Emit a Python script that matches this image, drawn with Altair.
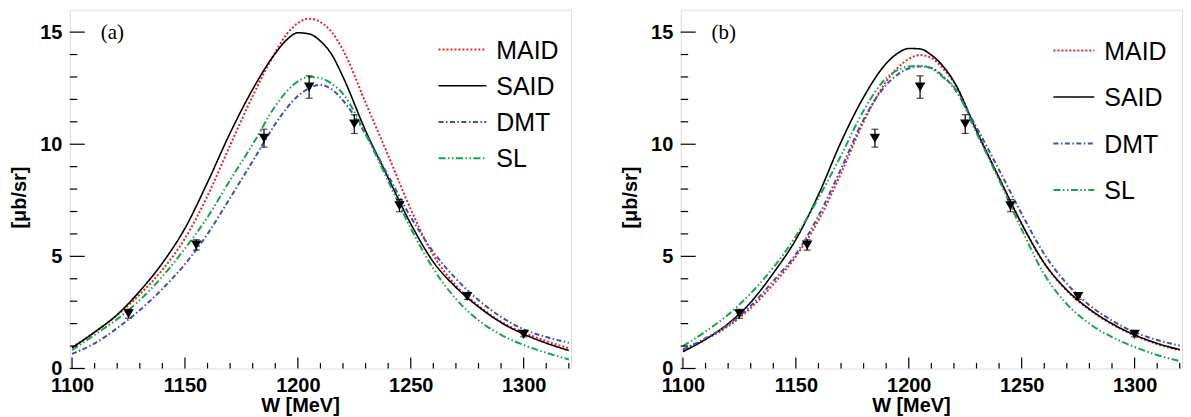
import altair as alt
import pandas as pd

# ---------------- data ----------------
W = [1100, 1110, 1120, 1130, 1140, 1150, 1160, 1170, 1180, 1190, 1195, 1200, 1205,
     1210, 1215, 1220, 1230, 1240, 1250, 1260, 1270, 1280, 1290, 1300, 1310, 1320]

MAID_A = [0.95, 1.62, 2.38, 3.30, 4.40, 5.80, 7.70, 9.95, 12.15, 14.10, 14.90, 15.40, 15.60,
          15.45, 15.00, 14.20, 11.85, 9.50, 7.10, 5.05, 3.70, 2.80, 2.08, 1.60, 1.22, 0.90]
SAID_A = [0.92, 1.62, 2.40, 3.45, 4.70, 6.25, 8.30, 10.50, 12.45, 14.05, 14.65, 14.97, 14.92,
          14.60, 14.00, 13.00, 10.60, 8.50, 6.45, 4.75, 3.62, 2.75, 2.05, 1.53, 1.13, 0.80]
DMT_A = [0.65, 1.12, 1.80, 2.60, 3.55, 4.65, 6.00, 7.60, 9.25, 10.90, 11.60, 12.15, 12.50,
         12.65, 12.45, 11.95, 10.45, 8.60, 6.75, 5.20, 4.00, 3.05, 2.30, 1.75, 1.40, 1.15]
SL_A = [0.82, 1.50, 2.20, 3.05, 4.10, 5.35, 6.75, 8.40, 10.00, 11.70, 12.35, 12.80, 13.00,
        12.95, 12.70, 12.25, 10.45, 8.35, 6.25, 4.45, 3.10, 2.15, 1.50, 1.05, 0.70, 0.40]

MAID_B = [0.82, 1.30, 1.88, 2.70, 3.75, 5.00, 6.60, 8.70, 11.00, 12.80, 13.40, 13.80, 13.98,
          13.85, 13.40, 12.75, 10.60, 8.50, 6.45, 4.68, 3.47, 2.62, 1.97, 1.47, 1.09, 0.81]
SAID_B = [0.75, 1.30, 2.00, 2.95, 4.25, 5.75, 7.75, 10.10, 12.10, 13.60, 14.05, 14.27, 14.25,
          13.98, 13.50, 12.80, 10.60, 8.50, 6.45, 4.70, 3.50, 2.65, 2.00, 1.50, 1.12, 0.84]
DMT_B = [0.85, 1.35, 1.95, 2.80, 3.90, 5.10, 6.80, 8.90, 11.10, 12.65, 13.10, 13.38, 13.47,
         13.40, 13.05, 12.50, 10.75, 8.85, 6.90, 5.10, 3.78, 2.82, 2.14, 1.62, 1.27, 1.02]
SL_B = [1.00, 1.65, 2.40, 3.35, 4.50, 5.90, 7.60, 9.50, 11.50, 12.95, 13.30, 13.47, 13.50,
        13.38, 13.00, 12.55, 10.50, 8.40, 6.20, 4.20, 2.87, 2.00, 1.40, 0.96, 0.60, 0.33]

DATA_W = [1125, 1155, 1185, 1205, 1225, 1245, 1275, 1300]
DATA_Y = [2.44, 5.51, 10.27, 12.55, 10.90, 7.26, 3.21, 1.52]
DATA_ERR = [0.20, 0.23, 0.40, 0.50, 0.42, 0.27, 0.13, 0.11]

NAMES = ["MAID", "SAID", "DMT", "SL"]
COLORS = ["#f02020", "#000000", "#3a52b4", "#12a64a"]
DASHES = [[2, 2], [1, 0], [5, 2.5, 1.5, 2.5], [7, 2.5, 1.5, 2.5, 1.5, 2.5]]

X_MAJOR = [1100, 1150, 1200, 1250, 1300]
X_MINOR = [1110, 1120, 1130, 1140, 1160, 1170, 1180, 1190, 1210, 1220, 1230, 1240,
           1260, 1270, 1280, 1290, 1310, 1320]
Y_MAJOR = [0, 5, 10, 15]
Y_MINOR = [1, 2, 3, 4, 6, 7, 8, 9, 11, 12, 13, 14]

PW, PH = 503, 360
FONT = "Liberation Sans"


def panel(curves, tag, leg_range, leg_x0, leg_x1, leg_tx):
    rows = []
    for name, vals in zip(NAMES, curves):
        for w, v in zip(W, vals):
            rows.append({"W": w, "v": v, "model": name})
    df = pd.DataFrame(rows)
    pts = pd.DataFrame({"W": DATA_W, "v": DATA_Y,
                        "lo": [y - e for y, e in zip(DATA_Y, DATA_ERR)],
                        "hi": [y + e for y, e in zip(DATA_Y, DATA_ERR)]})

    xs = alt.Scale(domain=[1099, 1321], nice=False, zero=False)
    ys = alt.Scale(domain=[0, 16], nice=False, zero=False)
    xaxis = alt.Axis(values=X_MAJOR, ticks=False, tickSize=0, domain=False, grid=False,
                     labelFont=FONT, labelFontWeight="bold", labelFontSize=20,
                     labelColor="black", labelPadding=7, labelFlush=False,
                     labelOverlap=False, format="d",
                     title="W [MeV]", titleFont=FONT, titleFontWeight="bold",
                     titleFontSize=20, titleColor="black", titlePadding=0,
                     titleX=231)
    yaxis = alt.Axis(values=Y_MAJOR, ticks=False, tickSize=0, domain=False, grid=False,
                     labelFont=FONT, labelFontWeight="bold", labelFontSize=20,
                     labelColor="black", labelPadding=8, labelFlush=False,
                     labelOverlap=False,
                     title="[\u03bcb/sr]", titleFont=FONT, titleFontWeight="bold",
                     titleFontSize=20, titleColor="black", titlePadding=10,
                     titleY=188)

    def X(f):
        return alt.X(f, scale=xs, axis=xaxis)

    def Y(f):
        return alt.Y(f, scale=ys, axis=yaxis)

    color = alt.Color("model:N", scale=alt.Scale(domain=NAMES, range=COLORS), legend=None)
    dash = alt.StrokeDash("model:N", scale=alt.Scale(domain=NAMES, range=DASHES), legend=None)
    width = alt.condition(alt.datum.model == "SAID", alt.value(1.6), alt.value(2))

    lines = alt.Chart(df).mark_line(clip=True, interpolate="monotone").encode(
        x=X("W:Q"), y=Y("v:Q"), color=color, strokeDash=dash, strokeWidth=width)

    err = alt.Chart(pts).mark_rule(color="black", strokeWidth=1.2).encode(
        x=X("W:Q"), y=Y("lo:Q"), y2="hi:Q")
    cap_lo = alt.Chart(pts).mark_tick(orient="horizontal", size=7, thickness=1.2,
                                      color="black").encode(x=X("W:Q"), y=Y("lo:Q"))
    cap_hi = alt.Chart(pts).mark_tick(orient="horizontal", size=7, thickness=1.2,
                                      color="black").encode(x=X("W:Q"), y=Y("hi:Q"))
    marks = alt.Chart(pts).mark_point(shape="triangle-down", filled=True, size=110,
                                      color="black", opacity=1).encode(
        x=X("W:Q"), y=Y("v:Q"))

    yt_major = alt.Chart(pd.DataFrame({"v": Y_MAJOR})).mark_rule(
        color="black", strokeWidth=1.2).encode(y=Y("v:Q"), x=alt.value(0), x2=alt.value(15))
    yt_minor = alt.Chart(pd.DataFrame({"v": Y_MINOR})).mark_rule(
        color="black", strokeWidth=1.2).encode(y=Y("v:Q"), x=alt.value(0), x2=alt.value(7.5))
    xt_major = alt.Chart(pd.DataFrame({"v": X_MAJOR})).mark_rule(
        color="black", strokeWidth=1.2).encode(x=X("v:Q"), y=alt.value(PH), y2=alt.value(PH - 11))
    xt_minor = alt.Chart(pd.DataFrame({"v": X_MINOR})).mark_rule(
        color="black", strokeWidth=1.2).encode(x=X("v:Q"), y=alt.value(PH), y2=alt.value(PH - 5.5))

    label = alt.Chart(pd.DataFrame({"t": [tag]})).mark_text(
        font="Liberation Serif", fontSize=21, align="left", baseline="middle",
        color="black").encode(text="t:N", x=alt.value(31), y=alt.value(23))

    main = alt.layer(lines, err, cap_lo, cap_hi, marks,
                     yt_major, yt_minor, xt_major, xt_minor, label)

    leg_df = pd.DataFrame({"model": NAMES})
    leg_y = alt.Y("model:N", scale=alt.Scale(type="point", domain=NAMES, range=leg_range,
                                             padding=0), axis=None)
    leg_rule = alt.Chart(leg_df).mark_rule().encode(
        x=alt.value(leg_x0), x2=alt.value(leg_x1), y=leg_y,
        color=color, strokeDash=dash, strokeWidth=width)
    leg_text = alt.Chart(leg_df).mark_text(
        font=FONT, fontSize=25, align="left", baseline="middle", color="black",
        dy=1).encode(x=alt.value(leg_tx), y=leg_y, text="model:N")
    legend = alt.layer(leg_rule, leg_text)

    return alt.layer(main, legend).resolve_scale(y="independent").properties(
        width=PW, height=PH)


pa = panel([MAID_A, SAID_A, DMT_A, SL_A], "(a)", [40, 149], 370, 418, 428)
pb = panel([MAID_B, SAID_B, DMT_B, SL_B], "(b)", [41, 181], 374, 415, 425)

chart = alt.hconcat(pa, pb, spacing=48).properties(
    padding={"left": 1, "top": 0, "right": 0, "bottom": 0}
).configure_view(stroke="black", strokeWidth=1.3).configure(background="white")

chart.save("out.html", embed_options={"renderer": "svg", "actions": False})
